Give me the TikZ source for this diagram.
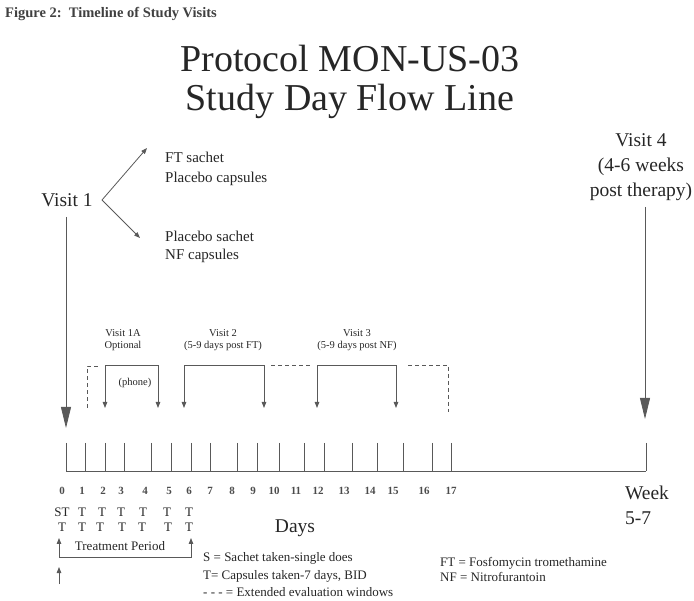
\documentclass[tikz,border=0pt]{standalone}
\usepackage{fontspec}
\setmainfont{Liberation Serif}
\usetikzlibrary{arrows.meta, calc}

\begin{document}
\begin{tikzpicture}[x=1pt, y=-1pt, >={Triangle[length=6pt, width=4.5pt]},
  every node/.style={text=black!85, inner sep=0pt},
  ln/.style={draw=black!65, line width=0.8pt},
  bigarrow/.style={ln, -{Triangle[length=21pt, width=10pt]}},
  window/.style={ln, dash pattern=on 4pt off 3pt},
  small/.style={font=\fontsize{10.5}{12}\selectfont},
  mid/.style={font=\fontsize{13}{15}\selectfont},
  big/.style={font=\fontsize{19.5}{23}\selectfont}]
  \useasboundingbox (0,0) rectangle (694,601);

  % headings
  \node[anchor=west, font=\fontsize{14.5}{16}\selectfont\bfseries, text=black!75] (fig) at (5,14) {Figure 2:\ \ Timeline of Study Visits};
  \node[align=center, font=\fontsize{38}{39}\selectfont] (title) at (350,82) {Protocol MON-US-03\\Study Day Flow Line};

  % visit 1 and the two arms
  \node[big] (visit1) at (67,200) {Visit 1};
  \node[anchor=west, align=left, font=\fontsize{15}{20}\selectfont] (armFT) at (165,169) {FT sachet\\Placebo capsules};
  \node[anchor=west, align=left, font=\fontsize{15}{18}\selectfont] (armNF) at (165,247) {Placebo sachet\\NF capsules};
  \coordinate (fork) at (102,200);
  \coordinate (armFTtip) at (147,148);
  \coordinate (armNFtip) at (140,238);
  \draw[ln, ->] (fork) -- (armFTtip);
  \draw[ln, ->] (fork) -- (armNFtip);

  % visit 4
  \node[big, align=center, font=\fontsize{19.5}{25}\selectfont] (visit4) at (641,167) {Visit 4\\(4-6 weeks\\post therapy)};

  % day axis
  \draw[ln] (66,471) -- (646,471);
  \foreach \t/\lx/\d in {66/62/0, 85/82/1, 105/103/2, 124/121/3, 151/145/4, 171/169/5, 191/189/6,
      210/210/7, 237/232/8, 257/253/9, 279/274/10, 304/296/11, 324/318/12, 352/344/13, 377/370/14, 403/393/15, 432/424/16, 451/451/17}{
    \coordinate (tick\d) at (\t,443);
    \draw[ln] (tick\d) -- (\t,471);
    \node[font=\fontsize{11}{12}\selectfont\bfseries, text=black!70] (day\d) at (\lx,491) {\d};
  }
  \coordinate (tickW) at (646,443);
  \draw[ln] (tickW) -- (646,471);
  \node[big, align=center, font=\fontsize{19.5}{25}\selectfont] (week) at (647,505) {Week\\\hspace*{-18pt}5-7};
  \node[big] (days) at (295,528) {Days};

  \coordinate (visit1tip) at (66,428);
  \coordinate (visit4tip) at (645,419);
  \draw[bigarrow] (66,217) -- (visit1tip);
  \draw[bigarrow] (visit4.south -| visit4tip) ++(0,6) -- (visit4tip);

  % visit windows
  \node[small, align=center] (v1A) at (123,340) {Visit 1A\\Optional};
  \node[small, align=center] (v2) at (223,340) {Visit 2\\(5-9 days post FT)};
  \node[small, align=center] (v3) at (357,340) {Visit 3\\(5-9 days post NF)};
  \node[small] (phone) at (135,383) {(phone)};
  \draw[window] (87,408) -- (87,366) -- (99,366);
  \draw[ln, <->] (105,408) -- (105,365) -- (158,365) -- (158,408);
  \draw[ln, <->] (184,408) -- (184,365) -- (264,365) -- (264,408);
  \draw[window] (271,365) -- (311,365);
  \draw[ln, <->] (317,408) -- (317,365) -- (396,365) -- (396,408);
  \draw[window] (408,365) -- (448,365) -- (448,412);

  % dosing rows
  \foreach \x/\s in {62/ST, 82/T, 102/T, 121/T, 143/T, 167/T, 189/T}
    \node[mid] at (\x,512) {\s};
  \foreach \x in {62, 82, 100, 122, 142, 168, 189}
    \node[mid] at (\x,527) {T};

  % treatment period
  \node[mid] (treat) at (120,546) {Treatment Period};
  \draw[ln, <->] (59,538) -- (59,557) -- (191,557) -- (191,538);
  \coordinate (starttip) at (59,567);
  \draw[ln, ->] (59,584) -- (starttip);

  % legends
  \node[mid, anchor=west, align=left, font=\fontsize{13}{17.5}\selectfont] (legend) at (203,575)
    {S = Sachet taken-single does\\T= Capsules taken-7 days, BID\\- - - = Extended evaluation windows};
  \node[mid, anchor=west, align=left, font=\fontsize{13}{15}\selectfont] (abbr) at (440,569)
    {FT = Fosfomycin tromethamine\\NF = Nitrofurantoin};
\end{tikzpicture}
\end{document}
